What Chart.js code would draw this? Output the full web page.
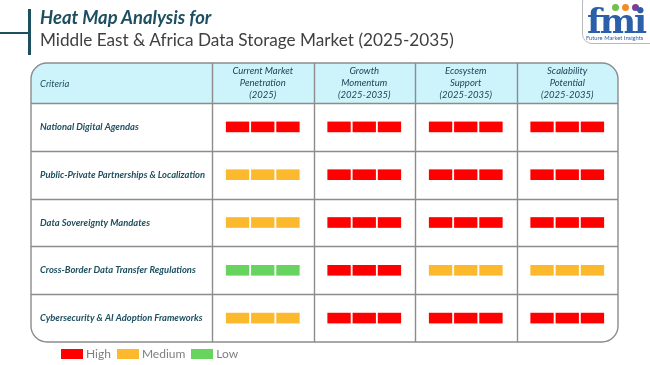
<!DOCTYPE html>
<html><head><meta charset="utf-8">
<script src="https://cdn.jsdelivr.net/npm/chart.js@4/dist/chart.umd.min.js"></script>
<style>
html,body{margin:0;padding:0;background:#fff;width:650px;height:365px;overflow:hidden;}
#wrap{position:relative;width:650px;height:365px;font-family:Lato,'Open Sans',sans-serif;}
canvas{position:absolute;left:0;top:0;}
.vline{position:absolute;left:28px;top:9px;width:3px;height:46px;background:#1d4f60;}
.hline{position:absolute;left:0;top:32px;width:29px;height:2px;background:#1d4f60;}
.t1{position:absolute;left:40px;top:6px;font:italic bold 18.4px Lato;color:#1d4f60;white-space:nowrap;}
.t2{position:absolute;left:40px;top:29px;font:17.2px Lato;color:#404040;white-space:nowrap;}
.logo{position:absolute;left:582px;top:-8px;width:80px;height:50px;border:1px solid #b9b9b9;border-radius:10px;}
.fmi{position:absolute;left:4px;top:9px;font:bold 33px 'DejaVu Serif';color:#2b5fa9;letter-spacing:-2px;transform:scaleX(1.04);transform-origin:left top;}
.fmis{position:absolute;left:3px;top:41px;font:5.8px Lato;color:#2b5fa9;white-space:nowrap;}
.dot{position:absolute;width:7px;height:7px;border-radius:50%;}
.legend{position:absolute;left:61px;top:346px;font:12px Lato;color:#7f7f7f;white-space:nowrap;}
.legend span.box{display:inline-block;width:22px;height:10px;vertical-align:-1px;margin-right:3px;}
.legend span.item{margin-right:6px;}
</style></head>
<body><div id="wrap">
<canvas id="c" width="650" height="365"></canvas>
<div class="vline"></div><div class="hline"></div>
<div class="t1">Heat Map Analysis for</div>
<div class="t2">Middle East &amp; Africa Data Storage Market (2025-2035)</div>
<div class="logo"><div class="dot" style="left:29px;top:11px;background:#6cc24a"></div><div class="dot" style="left:39px;top:11px;background:#f28c28"></div><div class="dot" style="left:49px;top:11px;background:#7b3f98"></div><div class="fmi">fmi</div><div class="fmis">Future Market Insights</div></div>
<div class="legend" id="legend"></div>
</div>
<script>
const criteria = [
  'National Digital Agendas',
  'Public-Private Partnerships & Localization',
  'Data Sovereignty Mandates',
  'Cross-Border Data Transfer Regulations',
  'Cybersecurity & AI Adoption Frameworks'
];
const columnLabels = [
  ['Current Market','Penetration','(2025)'],
  ['Growth','Momentum','(2025-2035)'],
  ['Ecosystem','Support','(2025-2035)'],
  ['Scalability','Potential','(2025-2035)']
];
const currentPenetration = ['High','Medium','Medium','Low','Medium'];
const growthMomentum = ['High','High','High','High','High'];
const ecosystemSupport = ['High','High','High','Medium','High'];
const scalabilityPotential = ['High','High','High','Medium','High'];
const levelNames = ['High','Medium','Low'];
const levelColors = {High:'#ff0000', Medium:'#fdb92d', Low:'#66d45f'};

const columnsData = [currentPenetration, growthMomentum, ecosystemSupport, scalabilityPotential];
const SEGMENTS = 3, HALF = 0.36, GAP = 0.025;
const segW = (2*HALF - (SEGMENTS-1)*GAP)/SEGMENTS;
const datasets = [];
columnsData.forEach((col, ci) => {
  for (let s = 0; s < SEGMENTS; s++) {
    const start = ci + 0.5 - HALF + s*(segW+GAP);
    datasets.push({
      data: criteria.map(() => [start, start+segW]),
      backgroundColor: col.map(l => levelColors[l]),
      borderWidth: 0,
      grouped: false,
      barThickness: 10,
      xAxisID: 'x'
    });
  }
});

const LINE = '#8c8c8c';
const tableFrame = {
  id: 'tableFrame',
  beforeDraw(chart) {
    const ctx = chart.ctx, ca = chart.chartArea;
    const x = chart.scales.x, y = chart.scales.y, xt = chart.scales.xTop;
    const left = y.left - 9, right = ca.right, top = xt.top, hb = ca.top, bottom = ca.bottom, r = 16;
    ctx.save();
    ctx.beginPath();
    ctx.moveTo(left, hb); ctx.lineTo(left, top + r); ctx.arcTo(left, top, left + r, top, r);
    ctx.lineTo(right - r, top); ctx.arcTo(right, top, right, top + r, r); ctx.lineTo(right, hb); ctx.closePath();
    ctx.fillStyle = '#ccf4fa'; ctx.fill();
    ctx.strokeStyle = LINE; ctx.lineWidth = 1.4;
    for (let i = 0; i < columnsData.length; i++) {
      const px = Math.round(x.getPixelForValue(i)) + 0.5;
      ctx.beginPath(); ctx.moveTo(px, top); ctx.lineTo(px, bottom); ctx.stroke();
    }
    const band = (bottom - hb) / criteria.length;
    for (let i = 0; i < criteria.length; i++) {
      const py = Math.round(y.getPixelForValue(i) - band/2) + 0.5;
      ctx.beginPath(); ctx.moveTo(left, py); ctx.lineTo(right, py); ctx.stroke();
    }
    ctx.beginPath();
    ctx.moveTo(left + r, top); ctx.lineTo(right - r, top); ctx.arcTo(right, top, right, top + r, r);
    ctx.lineTo(right, bottom - r); ctx.arcTo(right, bottom, right - r, bottom, r);
    ctx.lineTo(left + r, bottom); ctx.arcTo(left, bottom, left, bottom - r, r);
    ctx.lineTo(left, top + r); ctx.arcTo(left, top, left + r, top, r); ctx.closePath();
    ctx.stroke();
    ctx.fillStyle = '#1d4f60'; ctx.font = 'italic 9.5px Lato'; ctx.textBaseline = 'middle'; ctx.textAlign = 'left';
    ctx.fillText('Criteria', y.left, (top + hb)/2 + 1);
    ctx.restore();
  }
};

new Chart(document.getElementById('c'), {
  type: 'bar',
  data: { labels: criteria, datasets },
  options: {
    indexAxis: 'y',
    responsive: false,
    animation: false,
    layout: { padding: { left: 40, top: 63, right: 32, bottom: 23 } },
    plugins: { legend: { display: false }, tooltip: { enabled: false } },
    scales: {
      x: { type: 'linear', min: 0, max: columnsData.length, display: false },
      xTop: {
        type: 'category', position: 'top', labels: columnLabels, offset: true,
        grid: { display: false, drawTicks: false }, border: { display: false },
        afterFit: s => { s.height = 40; },
        ticks: { padding: 2, color: '#1d4456', font: { family: 'Lato', style: 'italic', size: 9.5, lineHeight: 1.25 }, maxRotation: 0, autoSkip: false }
      },
      y: {
        type: 'category', position: 'left',
        grid: { display: false, drawTicks: false }, border: { display: false },
        afterFit: s => { s.width = 172; },
        ticks: { crossAlign: 'far', color: '#1d4f60', font: { family: 'Lato', style: 'italic', weight: 'bold', size: 9.4 } }
      }
    }
  },
  plugins: [tableFrame]
});

const lg = document.getElementById('legend');
lg.innerHTML = levelNames.map(n => `<span class="item"><span class="box" style="background:${levelColors[n]}"></span>${n}</span>`).join('');
</script>
</body></html>
